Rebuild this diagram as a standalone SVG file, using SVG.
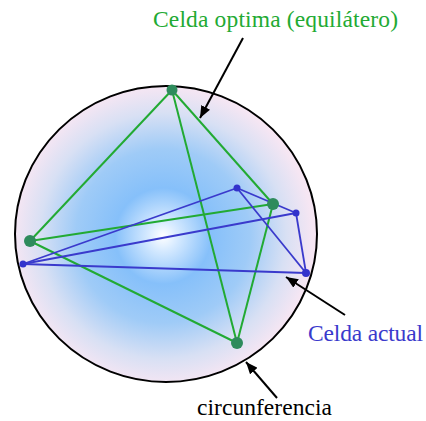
<svg xmlns="http://www.w3.org/2000/svg" width="426" height="421" viewBox="0 0 426 421">
<defs>
<radialGradient id="bg" gradientUnits="userSpaceOnUse" cx="163" cy="236" r="150">
<stop offset="0" stop-color="#ffffff"/>
<stop offset="0.1" stop-color="#d6eaff"/>
<stop offset="0.32" stop-color="#86c0fa"/>
<stop offset="0.58" stop-color="#9fcbf7"/>
<stop offset="0.82" stop-color="#d8e0f4"/>
<stop offset="1" stop-color="#f6e6f3"/>
</radialGradient>
<marker id="ah" viewBox="0 0 12 10" refX="12" refY="5" markerWidth="12" markerHeight="10" markerUnits="userSpaceOnUse" orient="auto">
<path d="M0,0 L12,5 L0,10 Z" fill="#000"/>
</marker>
<style>
.g{stroke:#22aa33;stroke-width:2;fill:none}
.b{stroke:#3a3acc;stroke-width:1.8;fill:none}
.gn{fill:#2e8b5c}
.bn{fill:#3333cc}
.ar{stroke:#000;stroke-width:2;fill:none;marker-end:url(#ah)}
</style>
</defs>
<g id="circunferencia">
<ellipse cx="166" cy="234" rx="151" ry="148" fill="url(#bg)" stroke="#000" stroke-width="2"/>
</g>
<g id="connectors">
<g id="celda-optima-edges">
<line class="g" x1="172" y1="90" x2="30" y2="241"/>
<line class="g" x1="172" y1="90" x2="273" y2="204"/>
<line class="g" x1="172" y1="90" x2="237" y2="343"/>
<line class="g" x1="30" y1="241" x2="273" y2="204"/>
<line class="g" x1="30" y1="241" x2="237" y2="343"/>
<line class="g" x1="273" y1="204" x2="237" y2="343"/>
</g>
<g id="celda-actual-edges">
<line class="b" x1="237" y1="188" x2="296" y2="213"/>
<line class="b" x1="237" y1="188" x2="23" y2="264"/>
<line class="b" x1="237" y1="188" x2="306" y2="273"/>
<line class="b" x1="296" y1="213" x2="23" y2="264"/>
<line class="b" x1="296" y1="213" x2="306" y2="273"/>
<line class="b" x1="23" y1="264" x2="306" y2="273"/>
</g>
<line class="ar" x1="243" y1="38" x2="200" y2="118"/>
<line class="ar" x1="345" y1="315" x2="286" y2="277"/>
<line class="ar" x1="277" y1="398" x2="246" y2="362"/>
</g>
<g id="optima-nodes">
<circle class="gn" cx="172" cy="90" r="5.5"/>
<circle class="gn" cx="273" cy="204" r="6"/>
<circle class="gn" cx="30" cy="241" r="6"/>
<circle class="gn" cx="237" cy="343" r="6"/>
</g>
<g id="actual-nodes">
<circle class="bn" cx="237" cy="188" r="3.5"/>
<circle class="bn" cx="296" cy="213" r="3.5"/>
<circle class="bn" cx="23" cy="264" r="3.5"/>
<circle class="bn" cx="306" cy="273" r="4"/>
</g>
<g id="labels" style="font-family:'Liberation Serif','DejaVu Serif',serif;font-size:23.5px">
<text x="153" y="27" fill="#22aa33" textLength="245">Celda optima (equilátero)</text>
<text x="308" y="341" fill="#3a3acc" textLength="115">Celda actual</text>
<text x="197" y="415" fill="#000" textLength="135">circunferencia</text>
</g>
</svg>
